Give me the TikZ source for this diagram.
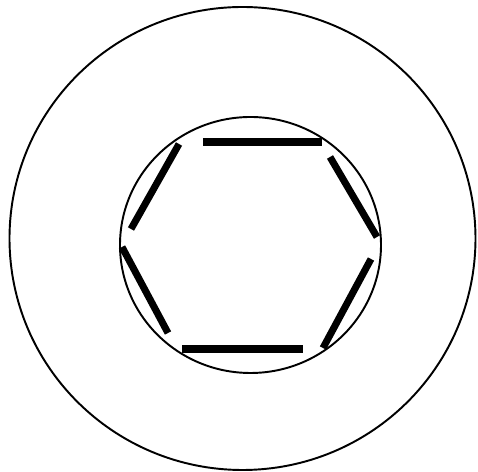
\documentclass[tikz,border=0pt]{standalone}
\usepackage{tikz}
\usetikzlibrary{calc}

\begin{document}
\begin{tikzpicture}[x=0.02cm, y=-0.02cm,
  ring/.style={line width=1.1pt},
  flat/.style={line width=4pt}]

\useasboundingbox (0,0) rectangle (478,472);

% Centres of the two circles (pixel grid, y downward)
\coordinate (Co) at (242.5, 238.5);
\coordinate (Ci) at (250.5, 245);

% --- Outer and inner circle ---
\draw[ring] (Co) ellipse (233 and 231.5);
\draw[ring] (Ci) ellipse (130.5 and 128);

% --- Hexagon flats (end points) ---
\coordinate (T1) at (203, 142);  \coordinate (T2) at (322, 142);
\coordinate (R1) at (330, 157);  \coordinate (R2) at (377, 237);
\coordinate (S1) at (371, 259);  \coordinate (S2) at (323, 348);
\coordinate (B1) at (303, 349);  \coordinate (B2) at (182, 349);
\coordinate (L1) at (168, 333);  \coordinate (L2) at (122, 247);
\coordinate (U1) at (131, 229);  \coordinate (U2) at (179, 144);

\draw[flat] (T1) -- (T2);
\draw[flat] (R1) -- (R2);
\draw[flat] (S1) -- (S2);
\draw[flat] (B1) -- (B2);
\draw[flat] (L1) -- (L2);
\draw[flat] (U1) -- (U2);

\end{tikzpicture}
\end{document}
